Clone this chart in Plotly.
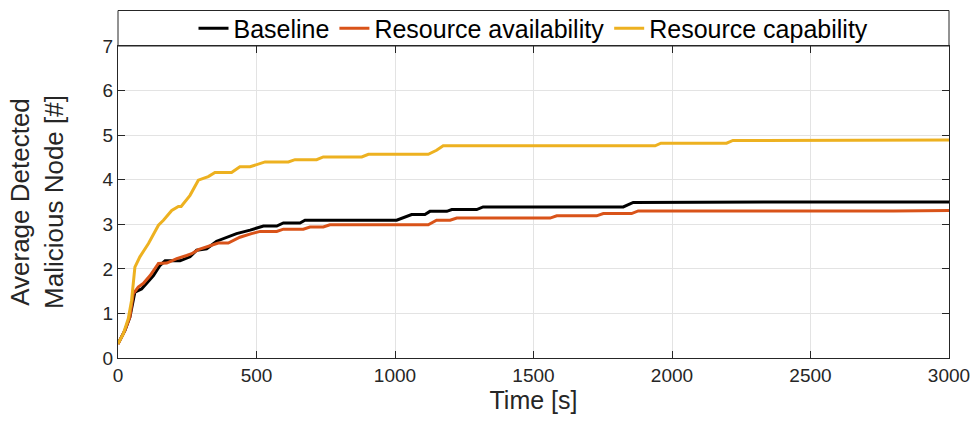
import plotly.graph_objects as go

# ---- data ----
baseline_t = [0, 25, 43, 61, 85, 103, 128, 152, 170, 224, 260, 284, 320, 356, 392, 428, 477, 525, 573,
              597, 657, 675, 1006, 1060, 1108, 1126, 1187, 1205, 1295, 1318, 1824, 1860, 2400, 3000]
baseline_v = [0.32, 0.62, 0.92, 1.48, 1.55, 1.67, 1.85, 2.08, 2.18, 2.18, 2.27, 2.42, 2.45, 2.62, 2.71,
              2.79, 2.87, 2.96, 2.96, 3.03, 3.03, 3.09, 3.09, 3.22, 3.22, 3.29, 3.29, 3.33, 3.33, 3.39,
              3.39, 3.49, 3.50, 3.50]

avail_t = [0, 25, 43, 55, 73, 91, 116, 146, 176, 212, 248, 266, 290, 320, 362, 398, 428, 440, 482, 513,
           573, 597, 669, 693, 741, 765, 1120, 1150, 1199, 1223, 1560, 1584, 1728, 1752, 1854, 1878,
           2800, 3000]
avail_v = [0.31, 0.62, 0.92, 1.44, 1.59, 1.67, 1.85, 2.12, 2.13, 2.23, 2.30, 2.34, 2.43, 2.49, 2.58,
           2.58, 2.66, 2.71, 2.79, 2.84, 2.84, 2.89, 2.89, 2.94, 2.94, 2.99, 2.99, 3.09, 3.09, 3.14,
           3.14, 3.19, 3.19, 3.24, 3.24, 3.30, 3.30, 3.31]

capab_t = [0, 19, 37, 49, 61, 79, 110, 146, 164, 194, 218, 228, 260, 290, 308, 326, 350, 410, 440, 477,
           531, 615, 639, 717, 741, 880, 904, 1120, 1150, 1174, 1939, 1960, 2197, 2220, 3000]
capab_v = [0.32, 0.54, 0.88, 1.29, 2.04, 2.27, 2.57, 2.98, 3.09, 3.31, 3.40, 3.40, 3.65, 3.99, 4.03,
           4.07, 4.16, 4.16, 4.29, 4.29, 4.40, 4.40, 4.45, 4.45, 4.51, 4.51, 4.57, 4.57, 4.66, 4.76,
           4.76, 4.82, 4.82, 4.88, 4.89]

series_names = ["Baseline", "Resource availability", "Resource capability"]
series_colors = ["#000000", "#D95319", "#EDB120"]

x_ticks = [0, 500, 1000, 1500, 2000, 2500, 3000]
y_ticks = [0, 1, 2, 3, 4, 5, 6, 7]

FONT = "Liberation Sans, Arial, Helvetica, sans-serif"
AXC = "#262626"

fig = go.Figure()
for name, color, t, v in zip(series_names, series_colors,
                             [baseline_t, avail_t, capab_t],
                             [baseline_v, avail_v, capab_v]):
    fig.add_trace(go.Scatter(x=t, y=v, mode="lines", name=name,
                             line=dict(color=color, width=3)))

axis_common = dict(
    showline=True, linecolor=AXC, linewidth=1, mirror="ticks",
    ticks="inside", ticklen=7, tickcolor=AXC, tickwidth=1,
    showgrid=True, gridcolor="#e3e3e3", gridwidth=1, zeroline=False,
    tickfont=dict(family=FONT, size=19, color=AXC), automargin=False,
)

fig.update_xaxes(range=[0, 3000], tickvals=x_ticks, ticktext=[str(v) for v in x_ticks],
                 title=dict(text="Time [s]", font=dict(family=FONT, size=25, color=AXC), standoff=4),
                 **axis_common)
fig.update_yaxes(range=[0, 7], tickvals=y_ticks, ticktext=[str(v) for v in y_ticks],
                 title=dict(text="Average Detected<br>Malicious Node [#]",
                            font=dict(family=FONT, size=26, color=AXC), standoff=31),
                 **axis_common)

# legend frame spanning the plot width, above the axes
fig.add_shape(type="rect", xref="paper", yref="paper", x0=0, x1=1, y0=1, y1=1 + 35.5 / 312,
              line=dict(color=AXC, width=1), fillcolor="white", layer="below")

fig.update_layout(
    width=974, height=422,
    margin=dict(l=118, r=25, t=46, b=64, autoexpand=False),
    paper_bgcolor="white", plot_bgcolor="white",
    showlegend=True,
    legend=dict(orientation="h", x=0.5, xanchor="center", y=1 + 17.5 / 312, yanchor="middle",
                font=dict(family=FONT, size=25, color="#000000"),
                bgcolor="rgba(0,0,0,0)", borderwidth=0, itemwidth=30,
                tracegroupgap=0),
    font=dict(family=FONT, color=AXC),
)

# remove the page's default body margin so the figure fills the window exactly
fig.write_html("out.html",
               config={"displayModeBar": False, "staticPlot": True},
               post_script="document.body.style.margin='0';document.body.style.overflow='hidden';")
